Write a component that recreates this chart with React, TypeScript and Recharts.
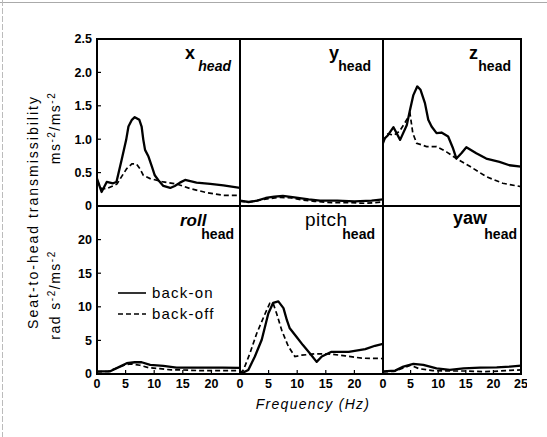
import React from 'react';
import { LineChart, Line, XAxis, YAxis, ReferenceArea, Legend } from 'recharts';

const FONT = '"Liberation Sans", Arial, Helvetica, sans-serif';

type Pair = [number, number];

// Frequency axis (Hz)
const freqDomain: [number, number] = [0, 25];
const freqTickMarks = [5, 10, 15, 20];
const freqLabelsLeft = [0, 5, 10, 15, 20];
const freqLabelsMid = [0, 5, 10, 15, 20];
const freqLabelsRight = [0, 5, 10, 15, 20, 25];

// Y axis ticks
const transTicks = [0, 0.5, 1.0, 1.5, 2.0, 2.5];
const rotTicks = [0, 5, 10, 15, 20];
const transMax = 2.5;
const rotMax = 25;

const seriesNames = ['back-on', 'back-off'];

// x head
const xHeadOn: Pair[] = [[0,0.41],[0.8,0.21],[1.7,0.36],[2.8,0.34],[3.4,0.36],[4.3,0.69],[5.1,0.99],[5.5,1.19],[6.1,1.29],[6.6,1.33],[7.4,1.29],[7.8,1.19],[8.1,0.99],[8.4,0.84],[9.0,0.74],[9.6,0.59],[10.1,0.46],[10.7,0.39],[11.6,0.30],[12.8,0.27],[13.6,0.30],[14.5,0.35],[15.4,0.39],[17.4,0.35],[19.8,0.33],[22.1,0.31],[25,0.27]];
const xHeadOff: Pair[] = [[0,0.38],[0.8,0.26],[1.7,0.26],[2.8,0.30],[3.5,0.33],[4.3,0.44],[5.2,0.56],[6.1,0.63],[6.9,0.63],[7.5,0.56],[8.1,0.46],[9.3,0.41],[11.6,0.36],[13.9,0.33],[16.3,0.26],[19.2,0.20],[22.1,0.16],[25,0.16]];
// y head
const yHeadOn: Pair[] = [[0,0.08],[1.5,0.06],[3,0.08],[4.5,0.12],[6,0.14],[7.5,0.15],[9.5,0.13],[12,0.10],[14,0.08],[17,0.08],[20,0.07],[23,0.08],[25,0.10]];
const yHeadOff: Pair[] = [[0,0.07],[1.5,0.06],[3,0.08],[5,0.11],[7,0.13],[9,0.12],[11,0.09],[13,0.07],[16,0.05],[19,0.05],[22,0.04],[25,0.06]];
// z head
const zHeadOn: Pair[] = [[0,0.94],[0.3,1.01],[0.9,1.06],[1.9,1.18],[3.1,0.99],[4.3,1.21],[4.9,1.44],[5.5,1.66],[6.2,1.79],[6.8,1.74],[7.6,1.54],[8.2,1.29],[8.8,1.19],[9.7,1.09],[10.6,1.10],[11.8,1.04],[12.7,0.86],[13.3,0.71],[14.2,0.79],[15.1,0.88],[16.9,0.79],[18.7,0.71],[21.1,0.66],[22.9,0.61],[25,0.59]];
const zHeadOff: Pair[] = [[0,0.97],[0.9,1.08],[2,1.06],[3,1.12],[4,1.25],[4.9,1.38],[5.4,1.09],[6.1,0.94],[7.9,0.89],[9.7,0.89],[11.5,0.81],[13.3,0.71],[15.8,0.59],[18.7,0.44],[21.7,0.34],[25,0.29]];
// roll head
const rollOn: Pair[] = [[0,0.4],[2.3,0.4],[4,1.1],[5.2,1.6],[6.6,1.75],[7.8,1.75],[9.3,1.35],[11.6,1.2],[13.9,0.95],[16.2,0.95],[19.2,0.95],[22,0.95],[25,0.9]];
const rollOff: Pair[] = [[0,0.3],[2,0.4],[3.5,0.9],[5,1.4],[6,1.5],[7.5,1.3],[9,0.95],[11,0.8],[13,0.6],[15,0.6],[18,0.5],[21,0.5],[25,0.5]];
// pitch head
const pitchOn: Pair[] = [[0,0],[0.3,0.1],[1.45,0.6],[2.6,2.6],[3.8,5.1],[4.95,9.0],[5.8,10.6],[6.7,10.8],[7.6,9.8],[8.2,8.0],[8.7,6.8],[9.9,5.5],[11.0,4.3],[12.2,3.1],[13.4,1.8],[14.3,2.6],[16,3.3],[19,3.3],[21.9,3.7],[23.6,4.2],[25,4.5]];
const pitchOff: Pair[] = [[0,0.1],[0.6,0.6],[1.75,3.1],[2.9,6.0],[4.4,9.0],[5.2,10.5],[5.8,10.5],[6.4,9.0],[7.3,6.5],[8.45,4.1],[9.6,2.6],[10.8,2.8],[13.1,3.0],[15.4,3.0],[18.4,2.7],[21.3,2.35],[25,2.3]];
// yaw head
const yawOn: Pair[] = [[0,0.4],[2.2,0.5],[3.7,1.1],[5.5,1.5],[7.3,1.35],[9.7,0.85],[12.1,0.6],[14.6,0.85],[17.6,0.95],[20.6,1.0],[23,1.1],[25,1.25]];
const yawOff: Pair[] = [[0,0.3],[2,0.4],[4,1.0],[5,1.3],[6.5,0.8],[9,0.5],[12,0.45],[15,0.45],[18,0.35],[20,0.4],[23,0.55],[25,0.6]];

const toPoints = (p: Pair[]) => p.map(([f, v]) => ({ f, v }));

const tickText = { fill: '#000', fontSize: 12.5, fontWeight: 700, fontFamily: FONT };

const renderLegend = (props: any) => {
  const payload = [...(props.payload || [])].sort(
    (a: any, b: any) => seriesNames.indexOf(a.value) - seriesNames.indexOf(b.value)
  );
  return (
    <div style={{ fontFamily: FONT, fontSize: 15, letterSpacing: 1.2, color: '#000' }}>
      {payload.map((entry: any) => (
        <div key={entry.value} style={{ display: 'flex', alignItems: 'center', height: 21 }}>
          <svg width={32} height={10} style={{ marginRight: 2 }}>
            <line x1={0} y1={5} x2={28} y2={5} stroke="#000" strokeWidth={1.6}
              strokeDasharray={entry.payload && entry.payload.strokeDasharray} />
          </svg>
          <span>{entry.value}</span>
        </div>
      ))}
    </div>
  );
};

interface PanelProps {
  left: number; top: number; w: number; h: number;
  on: Pair[]; off: Pair[];
  yMax: number; yTicks: number[]; showY: boolean;
  xLabels?: number[]; legend?: boolean;
}

const PL = 40, PR = 6, PT = 6, PB = 30;

function Panel({ left, top, w, h, on, off, yMax, yTicks, showY, xLabels, legend }: PanelProps) {
  const showX = !!xLabels;
  return (
    <div style={{ position: 'absolute', left: left - PL, top: top - PT }}>
      <LineChart width={w + PL + PR} height={h + PT + PB} margin={{ top: PT, right: PR, left: 0, bottom: 0 }}>
        <XAxis type="number" dataKey="f" domain={freqDomain} allowDataOverflow
          ticks={showX ? xLabels : freqTickMarks} interval={0} height={PB}
          tick={showX ? tickText : false} tickSize={-4} tickMargin={9}
          axisLine={{ stroke: '#000', strokeWidth: 2 }} tickLine={{ stroke: '#000', strokeWidth: 1.2 }} />
        <YAxis type="number" domain={[0, yMax]} allowDataOverflow ticks={yTicks} interval={0} width={PL}
          tick={showY ? tickText : false} tickLine={showY ? { stroke: '#000', strokeWidth: 1.2 } : false}
          tickSize={-4} tickMargin={9}
          tickFormatter={(v: number) => (yMax < 5 ? (v === 0 ? '0' : v.toFixed(1)) : String(v))}
          axisLine={{ stroke: '#000', strokeWidth: 2 }} />
        <ReferenceArea x1={0} x2={25} y1={0} y2={yMax} fill="none" fillOpacity={0} stroke="#000" strokeWidth={2} ifOverflow="visible" />
        <Line data={toPoints(on)} dataKey="v" name={seriesNames[0]} type="linear" stroke="#000" strokeWidth={2.3}
          strokeLinejoin="round" dot={false} activeDot={false} isAnimationActive={false} />
        <Line data={toPoints(off)} dataKey="v" name={seriesNames[1]} type="linear" stroke="#000" strokeWidth={1.7}
          strokeDasharray="5 3" dot={false} activeDot={false} isAnimationActive={false} />
        {legend && (
          <Legend layout="vertical" align="center" verticalAlign="middle" content={renderLegend}
            wrapperStyle={{ left: 61, top: 82, width: 120, height: 42 }} />
        )}
      </LineChart>
    </div>
  );
}

const colX = [97, 240, 383];
const colW = [143, 143, 138];
const rowY = [39, 206];
const rowH = [167, 168];

export default function App() {
  return (
    <div style={{ position: 'absolute', left: 0, top: 0, width: 547, height: 437, background: '#fff', overflow: 'hidden' }}>
      <Panel left={colX[0]} top={rowY[0]} w={colW[0]} h={rowH[0]} on={xHeadOn} off={xHeadOff} yMax={transMax} yTicks={transTicks} showY />
      <Panel left={colX[1]} top={rowY[0]} w={colW[1]} h={rowH[0]} on={yHeadOn} off={yHeadOff} yMax={transMax} yTicks={transTicks} showY={false} />
      <Panel left={colX[2]} top={rowY[0]} w={colW[2]} h={rowH[0]} on={zHeadOn} off={zHeadOff} yMax={transMax} yTicks={transTicks} showY={false} />
      <Panel left={colX[0]} top={rowY[1]} w={colW[0]} h={rowH[1]} on={rollOn} off={rollOff} yMax={rotMax} yTicks={rotTicks} showY xLabels={freqLabelsLeft} legend />
      <Panel left={colX[1]} top={rowY[1]} w={colW[1]} h={rowH[1]} on={pitchOn} off={pitchOff} yMax={rotMax} yTicks={rotTicks} showY={false} xLabels={freqLabelsMid} />
      <Panel left={colX[2]} top={rowY[1]} w={colW[2]} h={rowH[1]} on={yawOn} off={yawOff} yMax={rotMax} yTicks={rotTicks} showY={false} xLabels={freqLabelsRight} />
      <svg width={547} height={437} style={{ position: 'absolute', left: 0, top: 0, pointerEvents: 'none' }}
        fontFamily={FONT} fill="#000">
        <line x1={0} y1={2.5} x2={547} y2={2.5} stroke="#aaa" strokeWidth={1} />
        <line x1={2.5} y1={0} x2={2.5} y2={437} stroke="#bbb" strokeWidth={1} strokeDasharray="6 2" />
        <text transform="translate(38,212) rotate(-90)" textAnchor="middle" fontSize={14} letterSpacing={2}>Seat-to-head transmissibility</text>
        <text transform="translate(60,128) rotate(-90)" textAnchor="middle" fontSize={14} letterSpacing={1.5}>
          ms<tspan fontSize={10} dy={-5}>-2</tspan><tspan dy={5}>/ms</tspan><tspan fontSize={10} dy={-5}>-2</tspan>
        </text>
        <text transform="translate(60,295) rotate(-90)" textAnchor="middle" fontSize={14} letterSpacing={1.5}>
          rad s<tspan fontSize={10} dy={-5}>-2</tspan><tspan dy={5}>/ms</tspan><tspan fontSize={10} dy={-5}>-2</tspan>
        </text>
        <text x={313} y={409} textAnchor="middle" fontSize={14} fontStyle="italic" letterSpacing={1.3}>Frequency (Hz)</text>

        <text x={185} y={59} fontSize={18} fontWeight={700}>x</text>
        <text x={231} y={71} textAnchor="end" fontSize={14} fontWeight={700} fontStyle="italic">head</text>
        <text x={329} y={59} fontSize={18} fontWeight={700}>y</text>
        <text x={371} y={71} textAnchor="end" fontSize={14} fontWeight={700}>head</text>
        <text x={469} y={59} fontSize={18} fontWeight={700}>z</text>
        <text x={511} y={71} textAnchor="end" fontSize={14} fontWeight={700}>head</text>

        <text x={180} y={226} fontSize={17} fontWeight={700} fontStyle="italic">roll</text>
        <text x={234} y={239} textAnchor="end" fontSize={14} fontWeight={700}>head</text>
        <text x={305} y={226} fontSize={19} letterSpacing={0.5}>pitch</text>
        <text x={375} y={239} textAnchor="end" fontSize={14} fontWeight={700}>head</text>
        <text x={453} y={224} fontSize={18} fontWeight={700}>yaw</text>
        <text x={517} y={239} textAnchor="end" fontSize={14} fontWeight={700}>head</text>
      </svg>
    </div>
  );
}
